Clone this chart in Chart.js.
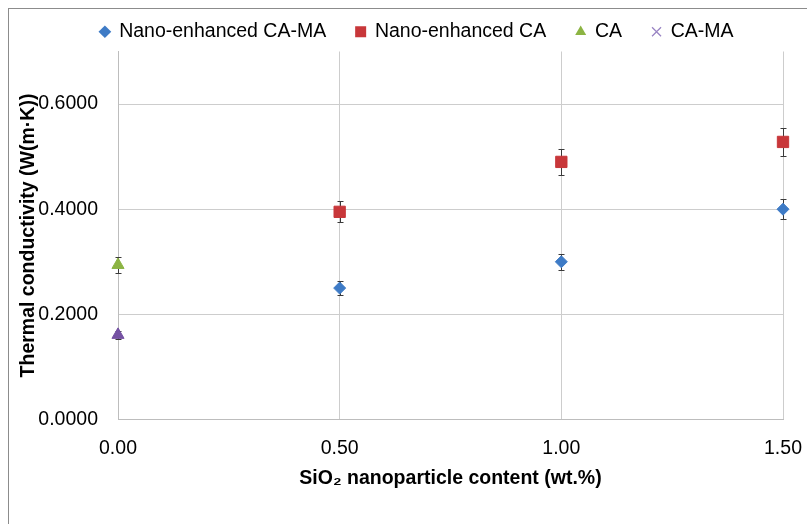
<!DOCTYPE html>
<html><head><meta charset="utf-8">
<script src="https://cdn.jsdelivr.net/npm/chart.js@4.4.0/dist/chart.umd.min.js"></script>
<style>
html,body{margin:0;padding:0;background:#fff;overflow:hidden}
#wrap{position:relative;width:807px;height:524px;overflow:hidden}
#frame{position:absolute;left:8px;top:8px;width:900px;height:600px;border:1px solid #8c8c8c;box-sizing:border-box;pointer-events:none}
canvas{position:absolute;left:0;top:0}
</style></head><body>
<div id="wrap"><canvas id="c" width="807" height="524"></canvas><div id="frame"></div></div>
<script>
// ---- data ----
const seriesNames = ['Nano-enhanced CA-MA', 'Nano-enhanced CA', 'CA', 'CA-MA'];
const nanoContent = [0.5, 1.0, 1.5];
const nanoCAMA = [0.25, 0.30, 0.40];
const nanoCAMAErr = [0.013, 0.015, 0.019];
const nanoCA = [0.395, 0.49, 0.528];
const nanoCAErr = [0.02, 0.024, 0.026];
const pureContent = [0];
const ca = [0.294];
const caErr = [0.016];
const caMA = [0.161];
const caMAErr = [0.008];
const xTicks = [0, 0.5, 1.0, 1.5];
const yTicks = [0, 0.2, 0.4, 0.6];
const xTitle = 'SiO\u2082 nanoparticle content (wt.%)';
const yTitle = 'Thermal conductivity (W(m\u00B7K))';

// ---- styles ----
const colors = ['#3E7BC6', '#C8373A', '#8CB443', '#7552A3'];
const legendColors = ['#3E7BC6', '#C8373A', '#8CB443', '#9A85C4'];
const pointStyles = ['rectRot', 'rect', 'triangle', 'triangle'];
const pointRadii = [6, 8, 7, 7];
const legendStyles = ['rectRot', 'rect', 'triangle', 'crossRot'];
const legendLineWidths = [0, 2, 0, 1.3];
const errorSets = [nanoCAMAErr, nanoCAErr, caErr, caMAErr];

Chart.defaults.font.family = "'Liberation Sans', Arial, sans-serif";
Chart.defaults.color = '#000';

function pts(xs, ys) { return xs.map((x, i) => ({x: x, y: ys[i]})); }
const seriesData = [pts(nanoContent, nanoCAMA), pts(nanoContent, nanoCA), pts(pureContent, ca), pts(pureContent, caMA)];

const errorBars = {
  id: 'errorBars',
  beforeDatasetsDraw(chart) {
    const ctx = chart.ctx, xs = chart.scales.x, ys = chart.scales.y;
    ctx.save();
    ctx.strokeStyle = '#3a3a3a';
    ctx.lineWidth = 1;
    chart.data.datasets.forEach((ds, di) => {
      const errs = errorSets[di];
      ds.data.forEach((p, i) => {
        const px = Math.round(xs.getPixelForValue(p.x)) + 0.5;
        const t = Math.round(ys.getPixelForValue(p.y + errs[i])) + 0.5;
        const b = Math.round(ys.getPixelForValue(p.y - errs[i])) + 0.5;
        ctx.beginPath();
        ctx.moveTo(px, t); ctx.lineTo(px, b);
        ctx.moveTo(px - 3, t); ctx.lineTo(px + 3, t);
        ctx.moveTo(px - 3, b); ctx.lineTo(px + 3, b);
        ctx.stroke();
      });
    });
    ctx.restore();
  }
};

new Chart(document.getElementById('c'), {
  type: 'scatter',
  data: {
    datasets: seriesNames.map((name, i) => ({
      label: name,
      data: seriesData[i],
      pointStyle: pointStyles[i],
      pointRadius: pointRadii[i],
      pointHoverRadius: pointRadii[i],
      backgroundColor: colors[i],
      borderColor: colors[i],
      borderWidth: 1,
      clip: false
    }))
  },
  options: {
    responsive: false,
    animation: false,
    devicePixelRatio: 1,
    events: [],
    layout: {padding: {top: -8, left: 35, right: 8, bottom: 0}},
    plugins: {
      tooltip: {enabled: false},
      legend: {
        display: true,
        position: 'top',
        labels: {
          font: {size: 19.5},
          color: '#000',
          padding: 30,
          usePointStyle: true,
          boxWidth: 9,
          boxHeight: 9,
          generateLabels(chart) {
            const items = Chart.defaults.plugins.legend.labels.generateLabels(chart);
            items.forEach((it, i) => {
              it.pointStyle = legendStyles[i];
              it.lineWidth = legendLineWidths[i];
              it.strokeStyle = legendColors[i];
              it.fillStyle = legendColors[i];
              it.fontColor = '#000';
            });
            return items;
          }
        }
      }
    },
    scales: {
      x: {
        type: 'linear',
        min: 0, max: 1.5,
        afterBuildTicks(scale) { scale.ticks = xTicks.map(v => ({value: v})); },
        afterFit(scale) { scale.height = 104.5; scale.paddingLeft = 0; scale.paddingRight = 0; },
        ticks: {
          padding: 17,
          font: {size: 19.5},
          color: '#000',
          callback: v => Number(v).toFixed(2)
        },
        grid: {color: '#cdcdcd', lineWidth: 1, drawTicks: false},
        border: {display: true, color: '#bdbdbd'},
        title: {
          display: true,
          text: xTitle,
          font: {size: 19.5, weight: 'bold', lineHeight: 1.2},
          color: '#000',
          padding: {top: 0, bottom: 34}
        }
      },
      y: {
        type: 'linear',
        min: 0, max: 0.7,
        afterBuildTicks(scale) { scale.ticks = yTicks.map(v => ({value: v})); },
        afterFit(scale) { scale.width = 83; scale.paddingTop = 0; scale.paddingBottom = 0; },
        ticks: {
          padding: 20,
          font: {size: 19.5},
          color: '#000',
          callback: v => Number(v).toFixed(4)
        },
        grid: {color: '#cdcdcd', lineWidth: 1, drawTicks: false},
        border: {display: true, color: '#bdbdbd'},
        title: {
          display: true,
          text: yTitle,
          font: {size: 19.5, weight: 'bold', lineHeight: 1.2},
          color: '#000',
          padding: {top: -18, bottom: 0}
        }
      },
      yRight: {
        type: 'linear',
        position: 'right',
        display: true,
        min: 0, max: 0.7,
        afterFit(scale) { scale.width = 16; scale.paddingTop = 0; scale.paddingBottom = 0; },
        ticks: {display: false},
        grid: {display: false, drawTicks: false},
        border: {display: false}
      }
    }
  },
  plugins: [errorBars]
});
</script>
</body></html>
